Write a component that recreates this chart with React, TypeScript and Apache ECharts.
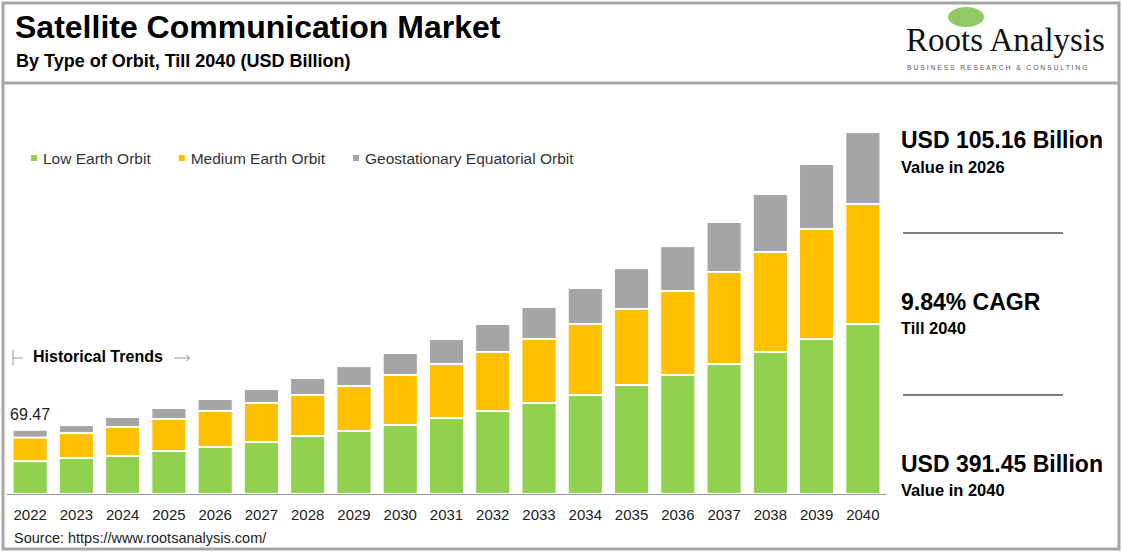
import React, { useEffect, useRef } from "react";
import * as echarts from "echarts";

const years = ["2022", "2023", "2024", "2025", "2026", "2027", "2028", "2029", "2030", "2031", "2032", "2033", "2034", "2035", "2036", "2037", "2038", "2039", "2040"];
const leo = [35.5, 38.9, 41.1, 46.5, 50.8, 56.2, 62.7, 68.1, 74.6, 82.2, 89.7, 98.4, 107.0, 117.8, 128.6, 140.5, 153.5, 167.6, 183.8];
const meo = [25.5, 27.0, 31.4, 34.6, 38.9, 42.2, 44.3, 48.6, 54.1, 58.4, 63.8, 69.2, 76.8, 82.2, 90.8, 99.5, 108.1, 118.9, 129.7];
const geo = [8.47, 8.6, 10.8, 11.9, 13.0, 15.1, 18.4, 21.6, 23.8, 27.0, 30.3, 34.6, 38.9, 44.3, 48.6, 54.1, 62.7, 70.3, 77.8];
const firstLabel = "69.47";

const FONT = "Arial, 'Liberation Sans', sans-serif";

export default function App() {
    const ref = useRef<HTMLDivElement | null>(null);

    useEffect(() => {
        document.body.style.margin = "0";
        if (!ref.current) return;
        const chart = echarts.init(ref.current, null, { renderer: "svg" });
        const seg = (name: string, data: number[], color: string, label?: boolean) => ({
            name,
            type: "bar" as const,
            stack: "total",
            barWidth: "76%",
            data: label
                ? data.map((v, i) => (i === 0 ? { value: v, label: { show: true, position: "top", formatter: firstLabel, color: "#222", fontSize: 16, fontFamily: FONT, offset: [0, -2] } } : v))
                : data,
            itemStyle: { color, borderColor: "#fff", borderWidth: 1 },
        });
        const txt = (x: number, y: number, text: string, size: number, weight = "bold", extra: any = {}) => ({
            type: "text", x, y, style: { text, fontSize: size, fontWeight: weight, fontFamily: FONT, fill: "#000", ...extra },
        });
        chart.setOption({
            animation: false,
            backgroundColor: "#fff",
            grid: { left: 7, right: 237, top: 100, bottom: 59 },
            legend: {
                left: 24, top: 145, itemWidth: 8, itemHeight: 8, itemGap: 26, icon: "rect",
                textStyle: { fontSize: 15.5, color: "#333", fontFamily: FONT },
            },
            xAxis: {
                type: "category", data: years,
                axisLine: { lineStyle: { color: "#999" } }, axisTick: { show: false },
                axisLabel: { fontSize: 15, color: "#222", fontFamily: FONT, margin: 13 },
            },
            yAxis: { type: "value", min: 0, max: 426, show: false, splitLine: { show: false } },
            series: [
                seg("Low Earth Orbit", leo, "#92d050"),
                seg("Medium Earth Orbit", meo, "#ffc000"),
                seg("Geostationary Equatorial Orbit", geo, "#a5a5a5", true),
            ],
            graphic: [
                { type: "rect", shape: { x: 3, y: 3, width: 1116, height: 546 }, style: { fill: "none", stroke: "#a6a6a6", lineWidth: 3 } },
                { type: "line", shape: { x1: 3, y1: 83, x2: 1119, y2: 83 }, style: { stroke: "#a6a6a6", lineWidth: 3 } },
                txt(15, 11, "Satellite Communication Market", 32),
                txt(16, 52, "By Type of Orbit, Till 2040 (USD Billion)", 18),
                { type: "ellipse", shape: { cx: 966, cy: 17, rx: 18, ry: 10 }, style: { fill: "#7cbf4a", opacity: 0.85 } },
                txt(906, 23, "Roots Analysis", 33, "normal", { fontFamily: "'Liberation Serif', 'DejaVu Serif', serif", fill: "#111" }),
                txt(907, 64, "B U S I N E S S   R E S E A R C H   &   C O N S U L T I N G", 6.8, "normal", { fill: "#555" }),
                txt(901, 128, "USD 105.16 Billion", 23),
                txt(901, 158, "Value in 2026", 16.5),
                { type: "line", shape: { x1: 903, y1: 233, x2: 1063, y2: 233 }, style: { stroke: "#7f7f7f", lineWidth: 2 } },
                txt(901, 290, "9.84% CAGR", 23),
                txt(901, 319, "Till 2040", 16.5),
                { type: "line", shape: { x1: 903, y1: 395, x2: 1063, y2: 395 }, style: { stroke: "#7f7f7f", lineWidth: 2 } },
                txt(901, 452, "USD 391.45 Billion", 23),
                txt(901, 481, "Value in 2040", 16.5),
                { type: "line", shape: { x1: 13, y1: 350, x2: 13, y2: 365 }, style: { stroke: "#999", lineWidth: 1 } },
                { type: "line", shape: { x1: 13, y1: 358, x2: 23, y2: 358 }, style: { stroke: "#999", lineWidth: 1 } },
                txt(33, 348, "Historical Trends", 16),
                { type: "line", shape: { x1: 174, y1: 358, x2: 190, y2: 358 }, style: { stroke: "#999", lineWidth: 1 } },
                { type: "polyline", shape: { points: [[186, 355], [190, 358], [186, 361]] }, style: { stroke: "#999", fill: "none", lineWidth: 1 } },
                txt(14, 530, "Source: https://www.rootsanalysis.com/", 14.5, "normal", { fill: "#222" }),
            ],
        });
        return () => chart.dispose();
    }, []);

    return <div ref={ref} style={{ width: 1123, height: 553 }} />;
}
